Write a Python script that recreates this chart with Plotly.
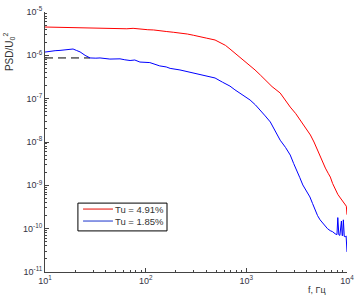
import plotly.graph_objects as go

# Tu = 4.91% (red)
name_red = "Tu = 4.91%"
f_red = [10, 12, 14.1, 17, 20, 22.3, 27, 35.2, 42, 55.6, 65, 75, 87.7, 105, 120, 138, 160, 190, 219, 260,
         300, 345, 400, 489, 560, 620, 688, 800, 928, 1070, 1220, 1380, 1535, 1800, 2170, 2450, 2730,
         3100, 3440, 3900, 4330, 4700, 5080, 5600, 6100, 6500, 6830, 7200, 7660, 8100, 8590, 9100, 9640, 9850, 10000]
psd_red = [4.5e-6, 4.45e-6, 4.5e-6, 4.4e-6, 4.3e-6, 4.25e-6, 4.3e-6, 4.2e-6, 4.15e-6, 4.05e-6, 4.1e-6, 4.2e-6,
           4.0e-6, 3.9e-6, 3.85e-6, 3.65e-6, 3.55e-6, 3.4e-6, 3.28e-6, 3.1e-6,
           2.9e-6, 2.65e-6, 2.5e-6, 2.26e-6, 1.95e-6, 1.7e-6, 1.4e-6, 1.05e-6, 7.8e-7, 6.0e-7, 4.6e-7, 3.5e-7,
           2.7e-7, 1.9e-7, 1.35e-7, 9.0e-8, 6.4e-8, 4.5e-8, 3.2e-8, 2.1e-8, 1.45e-8, 1.0e-8, 6.5e-9, 4.0e-9,
           2.5e-9, 1.9e-9, 1.55e-9, 1.1e-9, 7.8e-10, 6.2e-10, 5.1e-10, 4.2e-10, 3.5e-10, 3.3e-10, 2.1e-10]

# Tu = 1.85% (blue)
name_blue = "Tu = 1.85%"
f_blue = [10, 11.2, 12.6, 14.1, 15.8, 17.5, 19.0, 20.5, 22.3, 25, 28, 32, 35.2, 44.1, 55.6, 62, 70, 78, 87.7,
          110, 138, 160, 175, 219, 260, 300, 345, 410, 489, 580, 688, 770, 865, 970, 1090, 1230, 1376, 1540,
          1730, 1950, 2170, 2450, 2730, 2950, 3170, 3400, 3640, 3950, 4280, 4550, 4810, 5100, 5400, 5700,
          6060, 6400, 6810, 7200, 7640, 7950, 8100, 8190, 8300, 8500, 8800, 8950, 9050, 9200, 9400, 9640, 9800, 10000]
psd_blue = [1.19e-6, 1.25e-6, 1.28e-6, 1.3e-6, 1.33e-6, 1.36e-6, 1.40e-6, 1.3e-6, 1.2e-6, 1.0e-6, 8.7e-7,
            8.6e-7, 8.7e-7, 8.2e-7, 8.3e-7, 7.9e-7, 7.6e-7, 7.8e-7, 7.0e-7,
            6.8e-7, 5.7e-7, 5.4e-7, 5.0e-7, 4.6e-7, 4.2e-7, 3.8e-7, 3.5e-7, 3.3e-7, 3.0e-7, 2.4e-7, 1.95e-7,
            1.6e-7, 1.35e-7, 1.1e-7, 9.3e-8, 7.2e-8, 5.5e-8, 4.0e-8,
            2.9e-8, 1.8e-8, 1.1e-8, 7.5e-9, 5.0e-9, 3.2e-9, 2.26e-9, 1.5e-9, 1.02e-9, 7.5e-10, 5.4e-10,
            3.8e-10, 2.7e-10, 2.0e-10, 1.6e-10, 1.35e-10,
            1.15e-10, 1.0e-10, 9.0e-11, 8.5e-11, 7.6e-11, 7.3e-11, 1.8e-10, 7.5e-11, 7.2e-11, 7.0e-11,
            1.5e-10, 7.0e-11, 6.8e-11, 1.6e-10, 6.6e-11, 6.5e-11, 6.8e-11, 2.9e-11]

# dashed reference level
f_ref = [10, 28]
psd_ref = [8.7e-7, 8.7e-7]

# tick labels
x_tickvals = [10, 100, 1000, 10000]
x_ticktext = ["10<sup>1</sup>", "10<sup>2</sup>", "10<sup>3</sup>", "10<sup>4</sup>"]
y_tickvals = [1e-11, 1e-10, 1e-9, 1e-8, 1e-7, 1e-6, 1e-5]
y_ticktext = ["10<sup>-11</sup>", "10<sup>-10</sup>", "10<sup>-9</sup>", "10<sup>-8</sup>",
              "10<sup>-7</sup>", "10<sup>-6</sup>", "10<sup>-5</sup>"]

x_minor = [m * 10 ** e for e in range(1, 4) for m in range(2, 10)]
y_minor = [m * 10.0 ** e for e in range(-11, -5) for m in range(2, 10)]

fig = go.Figure()
fig.add_trace(go.Scatter(x=f_ref, y=psd_ref, mode="lines", showlegend=False,
                         line=dict(color="black", width=1, dash="8px,5px")))
fig.add_trace(go.Scatter(x=f_red, y=psd_red, mode="lines", name=name_red, showlegend=False,
                         line=dict(color="#ff0000", width=1)))
fig.add_trace(go.Scatter(x=f_blue, y=psd_blue, mode="lines", name=name_blue, showlegend=False,
                         line=dict(color="#0000ff", width=1)))

axis_common = dict(
    type="log", showgrid=False, zeroline=False, automargin=False,
    showline=True, linecolor="#444", linewidth=1, ticks="inside", ticklen=4,
    tickcolor="#444", tickfont=dict(family="Arial, Liberation Sans", size=9, color="#333344"),
    mirror=False, tickmode="array", ticklabeloverflow="allow",
)
fig.update_xaxes(range=[1, 4], tickvals=x_tickvals, ticktext=x_ticktext,
                 minor=dict(tickmode="array", tickvals=x_minor, ticks="inside", ticklen=2,
                            tickcolor="#444", showgrid=False),
                 **axis_common)
fig.update_yaxes(range=[-11, -5], tickvals=y_tickvals, ticktext=y_ticktext,
                 minor=dict(tickmode="array", tickvals=y_minor, ticks="inside", ticklen=2,
                            tickcolor="#444", showgrid=False),
                 **axis_common)

# hand-built legend box (paper coordinates)
shapes = [
    dict(type="rect", xref="paper", yref="paper", x0=0.109, x1=0.404, y0=0.158, y1=0.265,
         line=dict(color="black", width=1), fillcolor="white", layer="above"),
    dict(type="line", xref="paper", yref="paper", x0=0.126, x1=0.225, y0=0.242, y1=0.242,
         line=dict(color="#ee5a55", width=1.5), layer="above"),
    dict(type="line", xref="paper", yref="paper", x0=0.126, x1=0.225, y0=0.196, y1=0.196,
         line=dict(color="#6677dd", width=1.5), layer="above"),
]

fig.update_layout(
    width=355, height=297,
    margin=dict(l=45, r=8, t=12, b=25, autoexpand=False),
    plot_bgcolor="white", paper_bgcolor="white",
    font=dict(family="Arial, Liberation Sans", color="#333"),
    showlegend=False,
    shapes=shapes,
    annotations=[
        dict(text="PSD/U<sub>0</sub><sup>2</sup>", xref="paper", yref="paper",
             x=-0.12, y=0.845, xanchor="center", yanchor="middle", textangle=-90,
             showarrow=False, font=dict(size=10, color="#333")),
        dict(text="f, Гц", xref="paper", yref="paper", x=0.90, y=-0.07,
             xanchor="center", yanchor="middle", showarrow=False,
             font=dict(size=9, color="#333")),
        dict(text=name_red, xref="paper", yref="paper", x=0.226, y=0.242,
             xanchor="left", yanchor="middle", showarrow=False,
             font=dict(size=9.5, color="#333")),
        dict(text=name_blue, xref="paper", yref="paper", x=0.226, y=0.196,
             xanchor="left", yanchor="middle", showarrow=False,
             font=dict(size=9.5, color="#333")),
    ],
)

fig.write_html("out.html", config={"displayModeBar": False},
               post_script="document.body.style.margin='0';")
